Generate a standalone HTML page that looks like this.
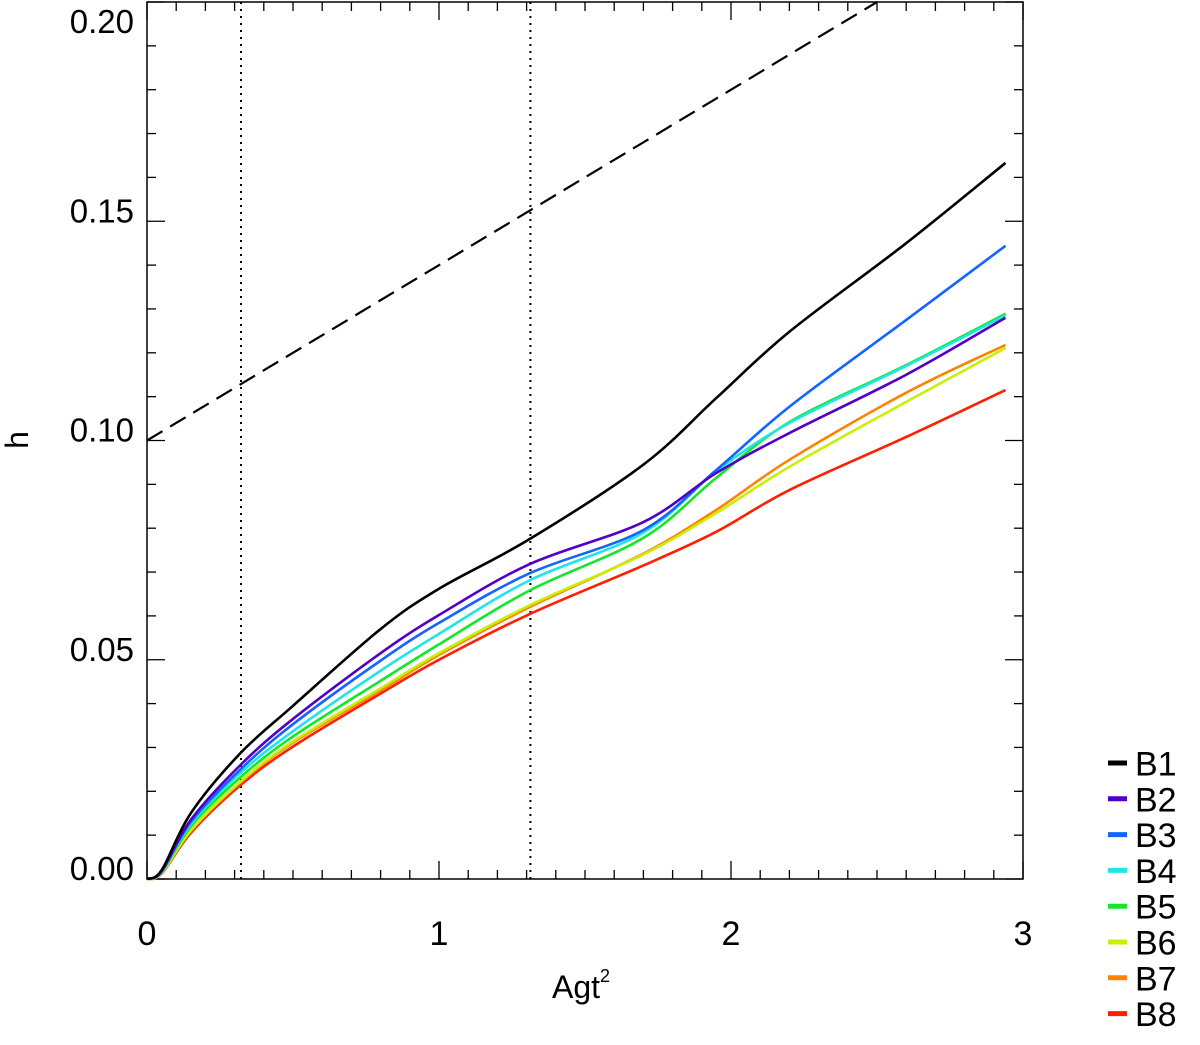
<!DOCTYPE html>
<html><head><meta charset="utf-8"><style>
body{margin:0;background:#fff;}
svg{display:block;font-family:"Liberation Sans",Arial,sans-serif;}
</style></head><body>
<svg id="chart" width="1200" height="1045" viewBox="0 0 1200 1045" xmlns="http://www.w3.org/2000/svg"></svg>
<script>
const xs = [0,0.05,0.15,0.32,0.5,0.8,1.0,1.31,1.7,1.95,2.2,2.6,2.94];
const B1 = [0,0.002,0.015,0.0287,0.0395,0.057,0.0662,0.0775,0.0945,0.1097,0.1248,0.145,0.1633];
const B2 = [0,0.0018,0.0135,0.026,0.0365,0.0515,0.0602,0.0718,0.0814,0.0926,0.1017,0.115,0.128];
const B3 = [0,0.0017,0.013,0.025,0.0353,0.0498,0.0584,0.0697,0.0796,0.0933,0.1077,0.1275,0.1444];
const B4 = [0,0.0016,0.0125,0.0242,0.0337,0.0475,0.0559,0.0681,0.079,0.093,0.104,0.117,0.1285];
const B5 = [0,0.0015,0.012,0.0232,0.0325,0.0452,0.0535,0.0658,0.0778,0.0915,0.1042,0.1172,0.1289];
const B6 = [0,0.0013,0.011,0.0222,0.0314,0.0435,0.0515,0.0624,0.074,0.0835,0.094,0.1088,0.1211];
const B7 = [0,0.0013,0.011,0.022,0.0311,0.043,0.0511,0.062,0.0742,0.0842,0.0956,0.1109,0.1218];
const B8 = [0,0.0012,0.0105,0.0214,0.0302,0.0423,0.05,0.0604,0.0715,0.0792,0.0887,0.1008,0.1115];
const seriesNames = ["B1","B2","B3","B4","B5","B6","B7","B8"];
const seriesColors = ["#000000","#5000c8","#1464ff","#1ee6e6","#14e628","#c8f000","#ff8200","#ff2000"];
const xTicks = [0,1,2,3];
const xTickLabels = ["0","1","2","3"];
const yTicks = [0,0.05,0.10,0.15,0.20];
const yTickLabels = ["0.00","0.05","0.10","0.15","0.20"];
const dashedLine = {x0:0,y0:0.10,x1:2.5,y1:0.20};
const dottedX = [0.322,1.313];

const svg = document.getElementById('chart');
const NS = "http://www.w3.org/2000/svg";
const L=147,R=1023,T=2,B=879;
const X = v => L + v/3*(R-L);
const Y = v => B - v/0.2*(B-T);
function mk(tag, attrs){const e=document.createElementNS(NS,tag);for(const k in attrs)e.setAttribute(k,attrs[k]);svg.appendChild(e);return e;}

const fr = mk('rect',{x:L,y:T,width:R-L,height:B-T,fill:'none',stroke:'#000','stroke-width':1.5});



for(let i=0;i<=30;i++){
  const v=i/10, major=(i%10===0), len=major?18:9, px=X(v);
  const t1=mk('line',{x1:px,y1:B,x2:px,y2:B-len,stroke:'#000','stroke-width':1.3});
  
  
  const t2=mk('line',{x1:px,y1:T,x2:px,y2:T+len,stroke:'#000','stroke-width':1.3});
  
  
}
for(let i=0;i<=20;i++){
  const v=i/100, major=(i%5===0), len=major?18:9, py=Y(v);
  const t1=mk('line',{x1:L,y1:py,x2:L+len,y2:py,stroke:'#000','stroke-width':1.3});
  
  
  const t2=mk('line',{x1:R,y1:py,x2:R-len,y2:py,stroke:'#000','stroke-width':1.3});
  
  
}
xTicks.forEach((v,i)=>{
  const t=mk('text',{x:X(v),y:945,'font-size':34,'text-anchor':'middle',fill:'#000'});
  t.textContent=xTickLabels[i];
  
  
});
yTicks.forEach((v,i)=>{
  const t=mk('text',{x:134,y:Math.max(Y(v)+1,33),'font-size':33,'text-anchor':'end',fill:'#000'});
  t.textContent=yTickLabels[i];
  
  
});
const xl=mk('text',{x:552,y:998,'font-size':32,fill:'#000'});
xl.innerHTML='Agt<tspan dy="-16" font-size="18">2</tspan>';


const yl=mk('text',{x:0,y:0,'font-size':32,fill:'#000','text-anchor':'middle',transform:'translate(28,440) rotate(-90)'});
yl.textContent='h';



const dl=mk('line',{x1:X(dashedLine.x0),y1:Y(dashedLine.y0),x2:X(dashedLine.x1),y2:Y(dashedLine.y1),stroke:'#000','stroke-width':2.2,'stroke-dasharray':'18,9'});


dottedX.forEach(v=>{
  const d=mk('line',{x1:X(v),y1:T,x2:X(v),y2:B,stroke:'#000','stroke-width':2,'stroke-dasharray':'2,5'});
  
  
});

function smooth(pts){
  let d='M'+pts[0][0]+','+pts[0][1];
  for(let i=0;i<pts.length-1;i++){
    const p0=pts[Math.max(0,i-1)],p1=pts[i],p2=pts[i+1],p3=pts[Math.min(pts.length-1,i+2)];
    const c1x=p1[0]+(p2[0]-p0[0])/6,c1y=p1[1]+(p2[1]-p0[1])/6;
    const c2x=p2[0]-(p3[0]-p1[0])/6,c2y=p2[1]-(p3[1]-p1[1])/6;
    d+=' C'+c1x+','+c1y+' '+c2x+','+c2y+' '+p2[0]+','+p2[1];
  }
  return d;
}
const allSeries=[B1,B2,B3,B4,B5,B6,B7,B8];
for(let s=allSeries.length-1;s>=0;s--){
  const pts=xs.map((x,i)=>[X(x),Y(allSeries[s][i])]);
  const p=mk('path',{d:smooth(pts),fill:'none',stroke:seriesColors[s],'stroke-width':2.6});
  
  
}
seriesNames.forEach((n,i)=>{
  const cy=763+i*35.8;
  const ln=mk('line',{x1:1108,y1:cy,x2:1127,y2:cy,stroke:seriesColors[i],'stroke-width':5});
  
  
  const t=mk('text',{x:1135,y:cy+12.5,'font-size':34,fill:'#000'});
  t.textContent=n;
  
  
});
</script>
</body></html>
